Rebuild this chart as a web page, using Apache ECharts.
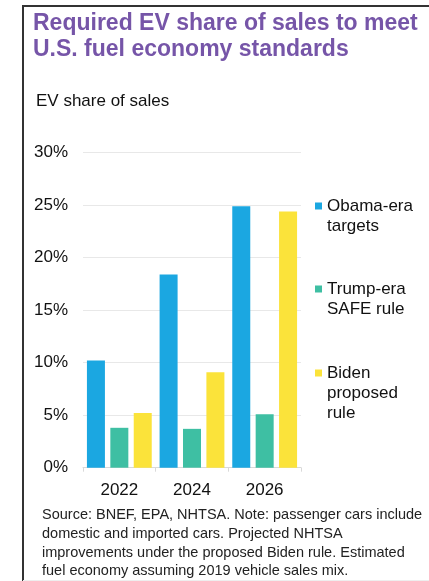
<!DOCTYPE html>
<html>
<head>
<meta charset="utf-8">
<script src="https://cdn.jsdelivr.net/npm/echarts@6/dist/echarts.min.js"></script>
<style>
  html, body { margin: 0; padding: 0; background: #fff; }
  #chart { width: 429px; height: 581px; }
</style>
</head>
<body>
<div id="chart"></div>
<script>
// Required EV share of sales (%) by model year under three rule sets
const years = ['2022', '2024', '2026'];
const obamaTargets = [10.2, 18.4, 24.9];
const trumpSafe = [3.8, 3.7, 5.1];
const bidenProposed = [5.2, 9.1, 24.4];
const seriesNames = ['Obama-era targets', 'Trump-era SAFE rule', 'Biden proposed rule'];
const legendLines = [['Obama-era', 'targets'], ['Trump-era', 'SAFE rule'], ['Biden', 'proposed', 'rule']];

const FONT = '"Liberation Sans", Arial, Helvetica, sans-serif';
const COLORS = ['#1ba7e1', '#3ebfa3', '#fbe33a'];
const LEGEND_LH = 20;
const legendFirstLineY = [206, 289, 373];

const chart = echarts.init(document.getElementById('chart'), null, { renderer: 'canvas' });

// one legend block per series; blank leading lines keep the swatch
// level with the first line of its label
const legends = seriesNames.map((name, i) => {
  const n = legendLines[i].length;
  const blockH = (2 * n - 1) * LEGEND_LH;
  return {
    data: [name],
    left: 315,
    top: legendFirstLineY[i] - blockH / 2,
    padding: 0,
    icon: 'rect',
    itemWidth: 7,
    itemHeight: 7,
    itemGap: 0,
    selectedMode: false,
    formatter: () => '\n'.repeat(n - 1) + legendLines[i].join('\n'),
    textStyle: { fontFamily: FONT, fontSize: 17, color: '#111', lineHeight: LEGEND_LH }
  };
});

const option = {
  animation: false,
  backgroundColor: '#fff',
  textStyle: { fontFamily: FONT },
  title: [
    {
      text: 'Required EV share of sales to meet\nU.S. fuel economy standards',
      left: 33, top: 9, padding: 0,
      textStyle: { fontFamily: FONT, fontSize: 23, fontWeight: 'bold', color: '#7655a8', lineHeight: 26 }
    },
    {
      text: 'EV share of sales',
      left: 36, top: 91, padding: 0,
      textStyle: { fontFamily: FONT, fontSize: 17, fontWeight: 'normal', color: '#111', lineHeight: 20 }
    },
    {
      text: 'Source: BNEF, EPA, NHTSA. Note: passenger cars include\ndomestic and imported cars. Projected NHTSA\nimprovements under the proposed Biden rule. Estimated\nfuel economy assuming 2019 vehicle sales mix.',
      left: 42, top: 506, padding: 0,
      textStyle: { fontFamily: FONT, fontSize: 14.5, fontWeight: 'normal', color: '#222', lineHeight: 18.7 }
    }
  ],
  legend: legends,
  grid: { left: 83, right: 128, top: 152.7, bottom: 113.3, containLabel: false },
  xAxis: {
    type: 'category',
    data: years,
    axisLine: { lineStyle: { color: '#d9d9d9', width: 1 } },
    axisTick: { show: true, length: 4, lineStyle: { color: '#d9d9d9' } },
    axisLabel: { fontFamily: FONT, fontSize: 17, color: '#111', margin: 14 }
  },
  yAxis: {
    type: 'value',
    min: 0, max: 30, interval: 5,
    axisLine: { show: false },
    axisTick: { show: false },
    splitLine: { lineStyle: { color: '#e8e8e8', width: 1 } },
    axisLabel: { fontFamily: FONT, fontSize: 17, color: '#111', margin: 15, formatter: '{value}%' }
  },
  series: [obamaTargets, trumpSafe, bidenProposed].map((vals, i) => ({
    name: seriesNames[i],
    type: 'bar',
    data: vals,
    barWidth: 18,
    barGap: '30%',
    itemStyle: { color: COLORS[i] }
  })),
  graphic: [
    {
      type: 'polyline',
      shape: { points: [[429, 6], [23, 6], [23, 581]] },
      style: { stroke: '#333', lineWidth: 2, fill: null },
      silent: true
    },
    {
      type: 'line',
      shape: { x1: 23, y1: 580.5, x2: 429, y2: 580.5 },
      style: { stroke: '#eeeeee', lineWidth: 1 },
      silent: true
    }
  ]
};

// nudge the headline down so its two lines sit a little lower in the frame
option.title[0].top = 11;

chart.setOption(option);
</script>
</body>
</html>
